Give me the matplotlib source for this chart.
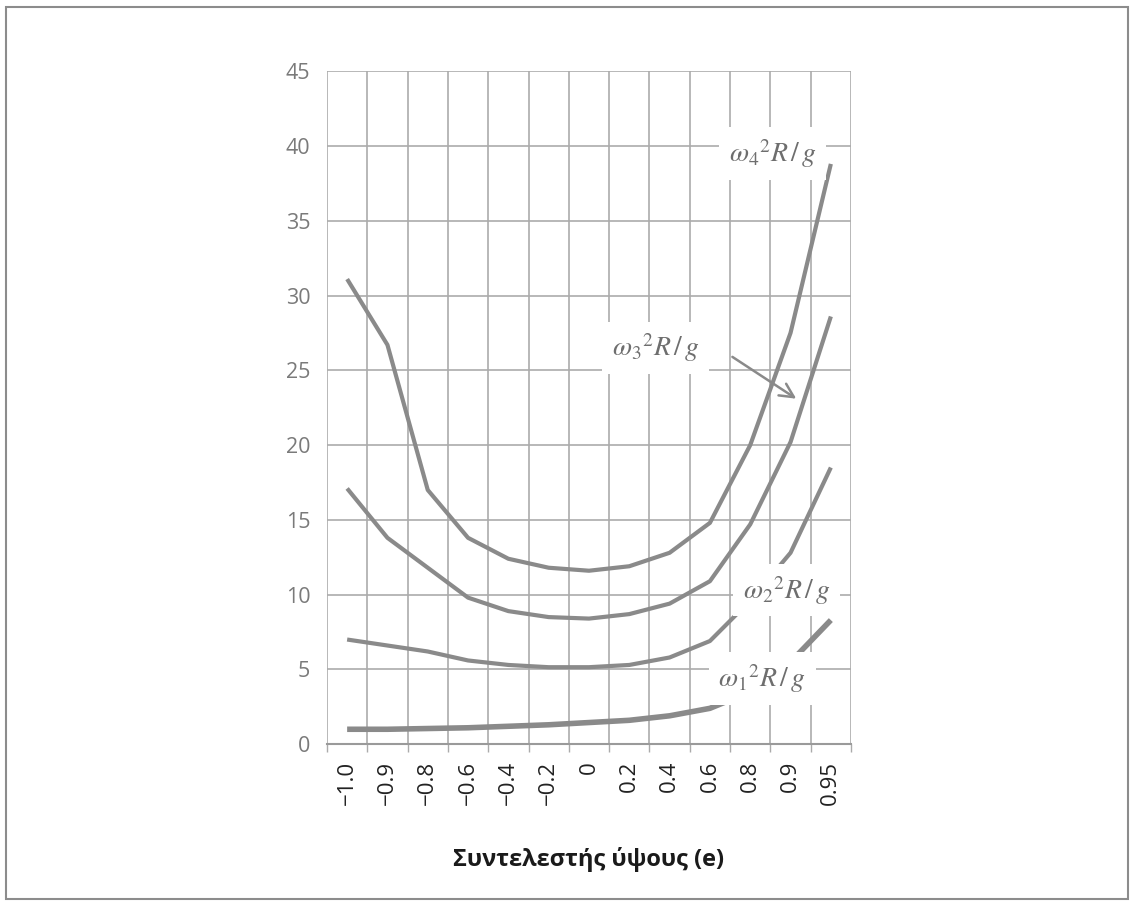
import matplotlib
matplotlib.use('Agg')
import matplotlib.pyplot as plt
from matplotlib.patches import Rectangle
from matplotlib.ticker import FixedLocator

plt.rcParams['font.family'] = ['Open Sans', 'DejaVu Sans']
plt.rcParams['mathtext.fontset'] = 'stix'

# height coefficient e (categorical axis)
e_labels = ['\u22121.0', '\u22120.9', '\u22120.8', '\u22120.6', '\u22120.4', '\u22120.2',
            '0', '0.2', '0.4', '0.6', '0.8', '0.9', '0.95']

# dimensionless eigenvalues w_i^2 R / g
w1 = [1.0, 1.0, 1.05, 1.1, 1.2, 1.3, 1.45, 1.6, 1.9, 2.4, 3.5, 5.5, 8.3]
w2 = [7.0, 6.6, 6.2, 5.6, 5.3, 5.15, 5.15, 5.3, 5.8, 6.9, 9.6, 12.8, 18.5]
w3 = [17.1, 13.8, 11.8, 9.8, 8.9, 8.5, 8.4, 8.7, 9.4, 10.9, 14.7, 20.2, 28.6]
w4 = [31.1, 26.7, 17.0, 13.8, 12.4, 11.8, 11.6, 11.9, 12.8, 14.8, 20.0, 27.5, 38.8]

line_col = '#8a8a8a'
grid_col = '#ababab'
label_col = '#6e6e6e'

fig = plt.figure(figsize=(11.33, 9.01), dpi=100)
ax = fig.add_axes([0.2886, 0.174, 0.4625, 0.747])

x = list(range(len(e_labels)))
for series, lw in ((w1, 4.0), (w2, 3.0), (w3, 3.0), (w4, 3.0)):
    ax.plot(x, series, color=line_col, lw=lw, solid_capstyle='butt',
            solid_joinstyle='round', zorder=3)

ax.set_xlim(-0.5, len(e_labels) - 0.5)
ax.set_ylim(0, 45)
ax.set_yticks(range(0, 46, 5))
ax.set_xticks(x)
ax.set_xticklabels(e_labels, rotation=90, fontsize=16, color='#222222')
ax.xaxis.set_minor_locator(FixedLocator([i - 0.5 for i in range(len(e_labels) + 1)]))
ax.tick_params(axis='x', which='major', length=0, pad=12)
ax.tick_params(axis='x', which='minor', length=6, width=1, color=grid_col, direction='out')
ax.tick_params(axis='y', length=0, labelsize=15.5, labelcolor='#7a7a7a', pad=12)

ax.grid(True, axis='y', color=grid_col, lw=1.2)
ax.grid(True, axis='x', which='minor', color=grid_col, lw=1.2)
ax.set_axisbelow(True)
for side in ('top', 'left', 'right'):
    ax.spines[side].set_visible(False)
ax.spines['bottom'].set_color('#9a9a9a')
ax.spines['bottom'].set_linewidth(1.5)

ax.set_xlabel('Συντελεστής ύψους (e)', fontsize=17, fontweight='bold',
              color='#1a1a1a', labelpad=30)

# curve labels on white boxes
box = dict(facecolor='white', edgecolor='none', pad=7)
kw = dict(fontsize=20, color=label_col, ha='center', va='center', zorder=5, bbox=box)
ax.text(10.55, 39.5, r'$\omega_4{}^2R\,/\,g$', **kw)
ax.text(7.65, 26.5, r'$\omega_3{}^2R\,/\,g$', **kw)
ax.text(10.9, 10.3, r'$\omega_2{}^2R\,/\,g$', **kw)
ax.text(10.3, 4.4, r'$\omega_1{}^2R\,/\,g$', **kw)
ax.annotate('', xy=(11.2, 23.0), xytext=(9.5, 26.0),
            arrowprops=dict(arrowstyle='->', color=line_col, lw=1.8,
                            mutation_scale=25), zorder=4)

fig.patches.append(Rectangle((6 / 1133, 1 - 899 / 901), 1122 / 1133, 892 / 901,
                             transform=fig.transFigure, fill=False,
                             edgecolor='#8c8c8c', lw=1.5))

fig.savefig('out.png', dpi=100)
